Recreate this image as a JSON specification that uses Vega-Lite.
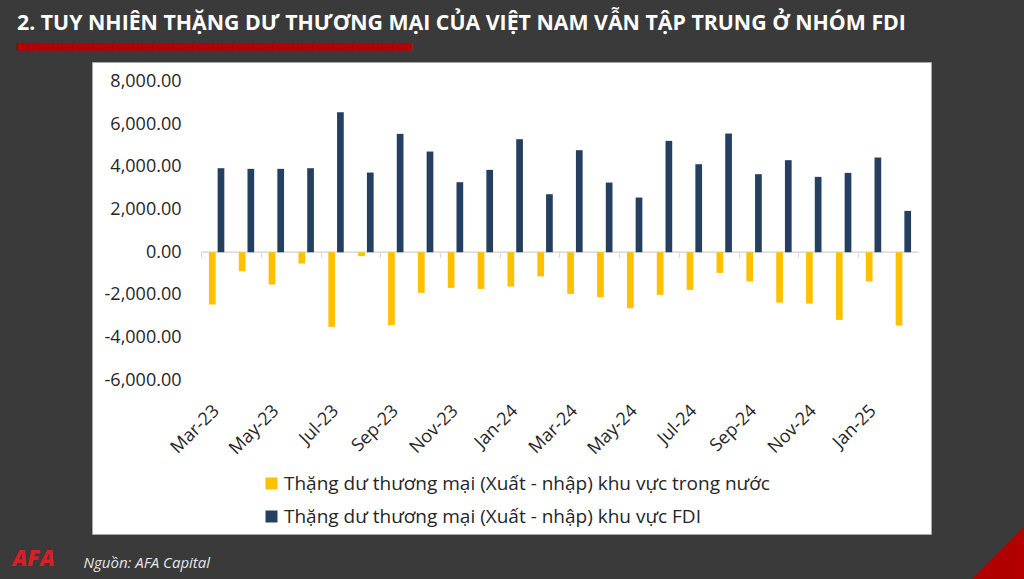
{
  "$schema": "https://vega.github.io/schema/vega-lite/v6.json",
  "width": 839,
  "height": 472,
  "autosize": {"type": "none"},
  "padding": {"left": 92, "top": 62, "right": 93, "bottom": 45},
  "background": "#3a3a3a",
  "title": {
    "text": "2. TUY NHIÊN THẶNG DƯ THƯƠNG MẠI CỦA VIỆT NAM VẪN TẬP TRUNG Ở NHÓM FDI",
    "subtitle": "███████████████████████████████████████████████████████████████████████████████",
    "anchor": "start",
    "frame": "group",
    "dx": -75,
    "offset": 12,
    "color": "white",
    "font": "Open Sans",
    "fontSize": 21.3,
    "fontWeight": "bold",
    "subtitleColor": "#b80000",
    "subtitleFont": "DejaVu Sans",
    "subtitleFontSize": 6.5,
    "subtitlePadding": 9
  },
  "data": {
    "values": [
      {"month": "Mar-23", "sector": "Thặng dư thương mại (Xuất - nhập) khu vực trong nước", "value": -2455},
      {"month": "Mar-23", "sector": "Thặng dư thương mại (Xuất - nhập) khu vực FDI", "value": 3941},
      {"month": "Apr-23", "sector": "Thặng dư thương mại (Xuất - nhập) khu vực trong nước", "value": -891},
      {"month": "Apr-23", "sector": "Thặng dư thương mại (Xuất - nhập) khu vực FDI", "value": 3910},
      {"month": "May-23", "sector": "Thặng dư thương mại (Xuất - nhập) khu vực trong nước", "value": -1517},
      {"month": "May-23", "sector": "Thặng dư thương mại (Xuất - nhập) khu vực FDI", "value": 3910},
      {"month": "Jun-23", "sector": "Thặng dư thương mại (Xuất - nhập) khu vực trong nước", "value": -532},
      {"month": "Jun-23", "sector": "Thặng dư thương mại (Xuất - nhập) khu vực FDI", "value": 3941},
      {"month": "Jul-23", "sector": "Thặng dư thương mại (Xuất - nhập) khu vực trong nước", "value": -3503},
      {"month": "Jul-23", "sector": "Thặng dư thương mại (Xuất - nhập) khu vực FDI", "value": 6569},
      {"month": "Aug-23", "sector": "Thặng dư thương mại (Xuất - nhập) khu vực trong nước", "value": -188},
      {"month": "Aug-23", "sector": "Thặng dư thương mại (Xuất - nhập) khu vực FDI", "value": 3738},
      {"month": "Sep-23", "sector": "Thặng dư thương mại (Xuất - nhập) khu vực trong nước", "value": -3425},
      {"month": "Sep-23", "sector": "Thặng dư thương mại (Xuất - nhập) khu vực FDI", "value": 5552},
      {"month": "Oct-23", "sector": "Thặng dư thương mại (Xuất - nhập) khu vực trong nước", "value": -1908},
      {"month": "Oct-23", "sector": "Thặng dư thương mại (Xuất - nhập) khu vực FDI", "value": 4723},
      {"month": "Nov-23", "sector": "Thặng dư thương mại (Xuất - nhập) khu vực trong nước", "value": -1673},
      {"month": "Nov-23", "sector": "Thặng dư thương mại (Xuất - nhập) khu vực FDI", "value": 3284},
      {"month": "Dec-23", "sector": "Thặng dư thương mại (Xuất - nhập) khu vực trong nước", "value": -1720},
      {"month": "Dec-23", "sector": "Thặng dư thương mại (Xuất - nhập) khu vực FDI", "value": 3863},
      {"month": "Jan-24", "sector": "Thặng dư thương mại (Xuất - nhập) khu vực trong nước", "value": -1611},
      {"month": "Jan-24", "sector": "Thặng dư thương mại (Xuất - nhập) khu vực FDI", "value": 5302},
      {"month": "Feb-24", "sector": "Thặng dư thương mại (Xuất - nhập) khu vực trong nước", "value": -1134},
      {"month": "Feb-24", "sector": "Thặng dư thương mại (Xuất - nhập) khu vực FDI", "value": 2721},
      {"month": "Mar-24", "sector": "Thặng dư thương mại (Xuất - nhập) khu vực trong nước", "value": -1955},
      {"month": "Mar-24", "sector": "Thặng dư thương mại (Xuất - nhập) khu vực FDI", "value": 4786},
      {"month": "Apr-24", "sector": "Thặng dư thương mại (Xuất - nhập) khu vực trong nước", "value": -2111},
      {"month": "Apr-24", "sector": "Thặng dư thương mại (Xuất - nhập) khu vực FDI", "value": 3269},
      {"month": "May-24", "sector": "Thặng dư thương mại (Xuất - nhập) khu vực trong nước", "value": -2628},
      {"month": "May-24", "sector": "Thặng dư thương mại (Xuất - nhập) khu vực FDI", "value": 2565},
      {"month": "Jun-24", "sector": "Thặng dư thương mại (Xuất - nhập) khu vực trong nước", "value": -2002},
      {"month": "Jun-24", "sector": "Thặng dư thương mại (Xuất - nhập) khu vực FDI", "value": 5224},
      {"month": "Jul-24", "sector": "Thặng dư thương mại (Xuất - nhập) khu vực trong nước", "value": -1767},
      {"month": "Jul-24", "sector": "Thặng dư thương mại (Xuất - nhập) khu vực FDI", "value": 4129},
      {"month": "Aug-24", "sector": "Thặng dư thương mại (Xuất - nhập) khu vực trong nước", "value": -970},
      {"month": "Aug-24", "sector": "Thặng dư thương mại (Xuất - nhập) khu vực FDI", "value": 5568},
      {"month": "Sep-24", "sector": "Thặng dư thương mại (Xuất - nhập) khu vực trong nước", "value": -1376},
      {"month": "Sep-24", "sector": "Thặng dư thương mại (Xuất - nhập) khu vực FDI", "value": 3660},
      {"month": "Oct-24", "sector": "Thặng dư thương mại (Xuất - nhập) khu vực trong nước", "value": -2362},
      {"month": "Oct-24", "sector": "Thặng dư thương mại (Xuất - nhập) khu vực FDI", "value": 4317},
      {"month": "Nov-24", "sector": "Thặng dư thương mại (Xuất - nhập) khu vực trong nước", "value": -2409},
      {"month": "Nov-24", "sector": "Thặng dư thương mại (Xuất - nhập) khu vực FDI", "value": 3535},
      {"month": "Dec-24", "sector": "Thặng dư thương mại (Xuất - nhập) khu vực trong nước", "value": -3175},
      {"month": "Dec-24", "sector": "Thặng dư thương mại (Xuất - nhập) khu vực FDI", "value": 3722},
      {"month": "Jan-25", "sector": "Thặng dư thương mại (Xuất - nhập) khu vực trong nước", "value": -1376},
      {"month": "Jan-25", "sector": "Thặng dư thương mại (Xuất - nhập) khu vực FDI", "value": 4442},
      {"month": "Feb-25", "sector": "Thặng dư thương mại (Xuất - nhập) khu vực trong nước", "value": -3441},
      {"month": "Feb-25", "sector": "Thặng dư thương mại (Xuất - nhập) khu vực FDI", "value": 1939}
    ]
  },
  "layer": [
    {
      "mark": {"type": "tick", "size": 30, "thickness": 1.5, "color": "#d9d9d9"},
      "encoding": {
        "x": {
          "field": "month", "type": "nominal", "sort": null,
          "scale": {"paddingInner": 0, "paddingOuter": 0, "range": [109.7, 826.3]},
          "axis": {
            "orient": "top", "offset": -190.2,
            "bandPosition": 0, "domain": false, "labels": false, "grid": false,
            "ticks": true, "tickSize": -5, "tickColor": "#d9d9d9", "tickWidth": 1.2,
            "values": ["Mar-23", "May-23", "Jul-23", "Sep-23", "Nov-23", "Jan-24", "Mar-24", "May-24", "Jul-24", "Sep-24", "Nov-24", "Jan-25"],
            "title": "◢", "titleX": 931, "titleY": 326, "titleAlign": "right", "titleBaseline": "alphabetic",
            "titleFont": "DejaVu Sans", "titleFontSize": 80, "titleFontWeight": "normal", "titleColor": "#b00000"
          }
        },
        "y": {
          "datum": 0, "type": "quantitative",
          "scale": {"domain": [-13221, 8924], "nice": false, "zero": false}
        }
      }
    },
    {
      "mark": {"type": "bar"},
      "encoding": {
        "x": {
          "field": "month", "type": "nominal", "sort": null,
          "scale": {"paddingInner": 0, "paddingOuter": 0, "range": [109.7, 826.3]},
          "axis": {
            "orient": "bottom", "offset": -154, "domain": false, "ticks": false, "grid": false,
            "labelAngle": -45, "labelAlign": "right", "labelBaseline": "middle", "labelPadding": 28,
            "labelFont": "Open Sans", "labelFontSize": 18, "labelColor": "#262626",
            "values": ["Mar-23", "May-23", "Jul-23", "Sep-23", "Nov-23", "Jan-24", "Mar-24", "May-24", "Jul-24", "Sep-24", "Nov-24", "Jan-25"],
            "title": "Nguồn: AFA Capital",
            "titleX": -9, "titleY": 187, "titleAlign": "left", "titleBaseline": "alphabetic",
            "titleFont": "Open Sans", "titleFontSize": 15, "titleFontStyle": "italic", "titleFontWeight": "normal",
            "titleColor": "#e6e6e6"
          }
        },
        "xOffset": {
          "field": "sector", "type": "nominal", "sort": null,
          "scale": {"paddingInner": 0.23, "paddingOuter": 0.83}
        },
        "y": {
          "field": "value", "type": "quantitative",
          "scale": {"domain": [-13221, 8924], "nice": false, "zero": false},
          "axis": {
            "values": [-6000, -4000, -2000, 0, 2000, 4000, 6000, 8000],
            "format": ",.2f", "labelExpr": "replace(datum.label, '−', '-')",
            "domain": false, "ticks": false, "tickSize": 0, "grid": false,
            "labelPadding": -89, "labelAlign": "right",
            "labelFont": "Open Sans", "labelFontSize": 18, "labelColor": "#262626",
            "title": "AFA", "titleAngle": 0, "titleX": -80, "titleY": 503,
            "titleAlign": "left", "titleBaseline": "alphabetic",
            "titleFont": "Open Sans", "titleFontSize": 22, "titleFontWeight": 800, "titleFontStyle": "italic",
            "titleColor": "#d42027"
          }
        },
        "color": {
          "field": "sector", "type": "nominal", "sort": null,
          "scale": {
            "domain": ["Thặng dư thương mại (Xuất - nhập) khu vực trong nước", "Thặng dư thương mại (Xuất - nhập) khu vực FDI"],
            "range": ["#ffc000", "#243f60"]
          },
          "legend": {
            "title": null, "orient": "none", "legendX": 170, "legendY": 412, "direction": "vertical",
            "symbolType": "square", "symbolSize": 144, "symbolStrokeWidth": 0,
            "labelFont": "Open Sans", "labelFontSize": 19, "labelColor": "#262626",
            "labelLimit": 700, "labelOffset": 3, "rowPadding": 13
          }
        }
      }
    }
  ],
  "config": {
    "view": {"fill": "white", "stroke": "#a6a6a6", "strokeWidth": 1}
  }
}
